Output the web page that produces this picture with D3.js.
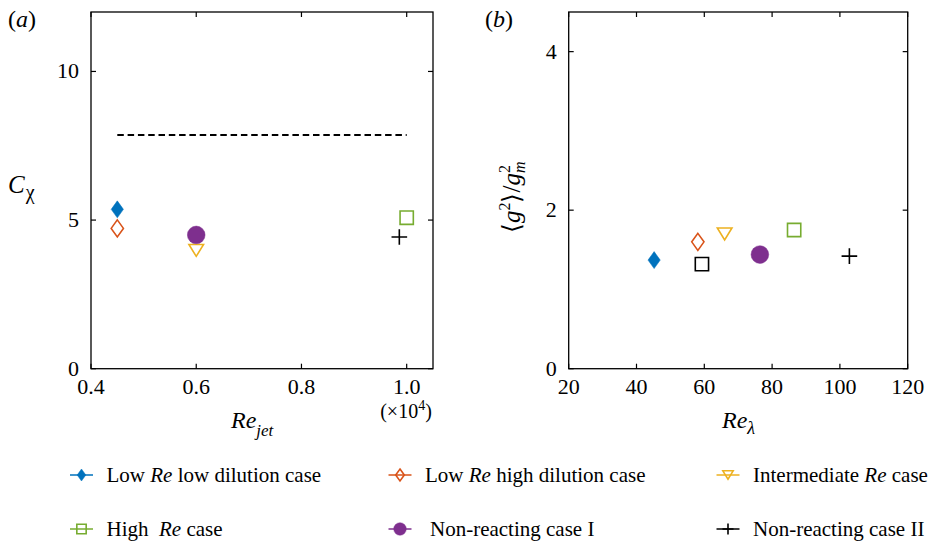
<!DOCTYPE html>
<html>
<head>
<meta charset="utf-8">
<script src="https://cdn.jsdelivr.net/npm/d3@7"></script>
<style>
  body { margin: 0; background: #fff; }
  svg { display: block; font-family: "Liberation Serif", "Times New Roman", serif; }
</style>
</head>
<body>
<svg id="chart" width="934" height="544"></svg>
<script>
// cases, in legend order
var caseLabels = ["Low *Re* low dilution case", "Low *Re* high dilution case", "Intermediate *Re* case",
                  "High  *Re* case", "Non-reacting case I", "Non-reacting case II"];
var caseColors = ["#0072BD", "#D95319", "#EDB120", "#77AC30", "#7E2F8E", "#000000"];
var caseShapes = ["diamond", "diamond", "triangle", "square", "circle", "plus"];
var caseFilled = [true, false, false, false, true, false];

// panel (a): C_chi against Re_jet (x 10^4)
var reJet = [0.45, 0.45, 0.60, 1.00, 0.60, 0.986];
var cChi = [5.36, 4.72, 3.98, 5.08, 4.50, 4.43];
var modelCChi = 7.86;
var modelReJet = [0.45, 1.0];

// panel (b): <g^2>/g_m^2 against Re_lambda
var reLambda = [45.2, 58.1, 66.0, 86.5, 76.4, 102.8];
var gRatio = [1.37, 1.60, 1.70, 1.75, 1.44, 1.42];
var extraReLambda = [59.3];
var extraGRatio = [1.32];

var ticksA_x = [0.4, 0.6, 0.8, 1.0];
var ticksA_y = [0, 5, 10];
var ticksB_x = [20, 40, 60, 80, 100, 120];
var ticksB_y = [0, 2, 4];

var svg = d3.select("#chart");

function markerPath(shape, s) {
    var p = d3.path();
    if (shape === "diamond") {
        var w = s * 0.72, h = s;
        p.moveTo(0, -h / 2); p.lineTo(w / 2, 0); p.lineTo(0, h / 2); p.lineTo(-w / 2, 0); p.closePath();
    } else if (shape === "square") {
        var a = s * 0.78;
        p.rect(-a / 2, -a / 2, a, a);
    } else if (shape === "triangle") {
        var tw = s * 0.86, th = s * 0.7;
        p.moveTo(-tw / 2, -th / 2); p.lineTo(tw / 2, -th / 2); p.lineTo(0, th / 2); p.closePath();
    } else if (shape === "circle") {
        p.arc(0, 0, s * 0.52, 0, 2 * Math.PI);
    } else if (shape === "plus") {
        var q = s * 0.46;
        p.moveTo(-q, 0); p.lineTo(q, 0); p.moveTo(0, -q); p.lineTo(0, q);
    }
    return p.toString();
}

function drawMarker(g, shape, color, filled, x, y, s) {
    g.append("path")
        .attr("transform", "translate(" + x + "," + y + ")")
        .attr("d", markerPath(shape, s))
        .attr("fill", filled ? color : "none")
        .attr("stroke", color)
        .attr("stroke-width", filled ? 0.5 : 1.6);
}

function drawFrame(x, y, xt, yt, fmtX) {
    var g = svg.append("g");
    var x0 = x.range()[0], x1 = x.range()[1], y0 = y.range()[0], y1 = y.range()[1];
    var tl = 5;
    g.append("rect").attr("x", x0).attr("y", y1).attr("width", x1 - x0).attr("height", y0 - y1)
        .attr("fill", "none").attr("stroke", "#000").attr("stroke-width", 1.3);
    xt.forEach(function (v) {
        g.append("line").attr("x1", x(v)).attr("x2", x(v)).attr("y1", y0).attr("y2", y0 - tl).attr("stroke", "#000").attr("stroke-width", 1.2);
        g.append("line").attr("x1", x(v)).attr("x2", x(v)).attr("y1", y1).attr("y2", y1 + tl).attr("stroke", "#000").attr("stroke-width", 1.2);
        g.append("text").attr("x", x(v)).attr("y", 394).attr("text-anchor", "middle")
            .attr("font-size", 22).text(fmtX(v));
    });
    yt.forEach(function (v) {
        g.append("line").attr("y1", y(v)).attr("y2", y(v)).attr("x1", x0).attr("x2", x0 + tl).attr("stroke", "#000").attr("stroke-width", 1.2);
        g.append("line").attr("y1", y(v)).attr("y2", y(v)).attr("x1", x1).attr("x2", x1 - tl).attr("stroke", "#000").attr("stroke-width", 1.2);
        g.append("text").attr("x", x0 - 12).attr("y", y(v) + 7).attr("text-anchor", "end")
            .attr("font-size", 22).text(v);
    });
    return g;
}

// ---- panel (a)
var xa = d3.scaleLinear().domain([0.4, 1.05]).range([91, 433]);
var ya = d3.scaleLinear().domain([0, 12]).range([368.7, 12]);
var ga = drawFrame(xa, ya, ticksA_x, ticksA_y, d3.format(".1f"));

ga.append("line")
    .attr("x1", xa(modelReJet[0])).attr("x2", xa(modelReJet[1]))
    .attr("y1", ya(modelCChi)).attr("y2", ya(modelCChi))
    .attr("stroke", "#000").attr("stroke-width", 1.9).attr("stroke-dasharray", "6.5,3.8");

reJet.forEach(function (v, i) {
    drawMarker(ga, caseShapes[i], caseColors[i], caseFilled[i], xa(v), ya(cChi[i]), 17);
});

svg.append("text").attr("x", 8).attr("y", 27).attr("font-size", 24)
    .html('(<tspan font-style="italic">a</tspan>)');
svg.append("text").attr("x", 8).attr("y", 193).attr("font-size", 25)
    .html('<tspan font-style="italic">C</tspan><tspan font-size="20" dx="1" dy="6">χ</tspan>');
svg.append("text").attr("x", 231).attr("y", 428).attr("font-size", 24)
    .html('<tspan font-style="italic">Re</tspan><tspan font-style="italic" font-size="17" dy="8">jet</tspan>');
svg.append("text").attr("x", 406).attr("y", 418).attr("font-size", 20).attr("text-anchor", "middle")
    .html('(×10<tspan font-size="14" dy="-8">4</tspan><tspan dy="8">)</tspan>');

// ---- panel (b)
var xb = d3.scaleLinear().domain([20, 120]).range([568.7, 907.7]);
var yb = d3.scaleLinear().domain([0, 4.5]).range([368.7, 12]);
var gb = drawFrame(xb, yb, ticksB_x, ticksB_y, d3.format("d"));

reLambda.forEach(function (v, i) {
    drawMarker(gb, caseShapes[i], caseColors[i], caseFilled[i], xb(v), yb(gRatio[i]), 17);
});
extraReLambda.forEach(function (v, i) {
    drawMarker(gb, "square", "#000", false, xb(v), yb(extraGRatio[i]), 17);
});

svg.append("text").attr("x", 485).attr("y", 27).attr("font-size", 24)
    .html('(<tspan font-style="italic">b</tspan>)');
svg.append("text").attr("transform", "translate(520,233) rotate(-90)").attr("font-size", 25)
    .html('⟨<tspan font-style="italic">g</tspan><tspan font-size="16" dy="-10">2</tspan><tspan dy="10">⟩/</tspan>' +
          '<tspan font-style="italic">g</tspan><tspan font-size="16" dy="-10">2</tspan>' +
          '<tspan font-size="16" font-style="italic" dx="-8" dy="15">m</tspan>');
svg.append("text").attr("x", 722).attr("y", 428).attr("font-size", 24)
    .html('<tspan font-style="italic">Re</tspan><tspan font-style="italic" font-size="18" dy="6">λ</tspan>');

// ---- legend
var legendX = [81.5, 400, 728];
var legendTextX = [106.5, 425, 753];
var legendY = [475, 529];
caseLabels.forEach(function (lab, i) {
    var col = i % 3, row = Math.floor(i / 3);
    var cx = legendX[col], cy = legendY[row];
    var g = svg.append("g");
    g.append("line").attr("x1", cx - 11.5).attr("x2", cx + 11.5).attr("y1", cy).attr("y2", cy)
        .attr("stroke", caseColors[i]).attr("stroke-width", 1.5);
    drawMarker(g, caseShapes[i], caseColors[i], caseFilled[i], cx, cy, 12);
    var t = g.append("text").attr("x", legendTextX[col] + (i === 4 ? 5 : 0)).attr("y", cy + 7).attr("font-size", 21)
        .style("white-space", "pre");
    lab.split("*").forEach(function (part, k) {
        t.append("tspan").attr("font-style", k % 2 ? "italic" : "normal").text(part);
    });
});
</script>
</body>
</html>
